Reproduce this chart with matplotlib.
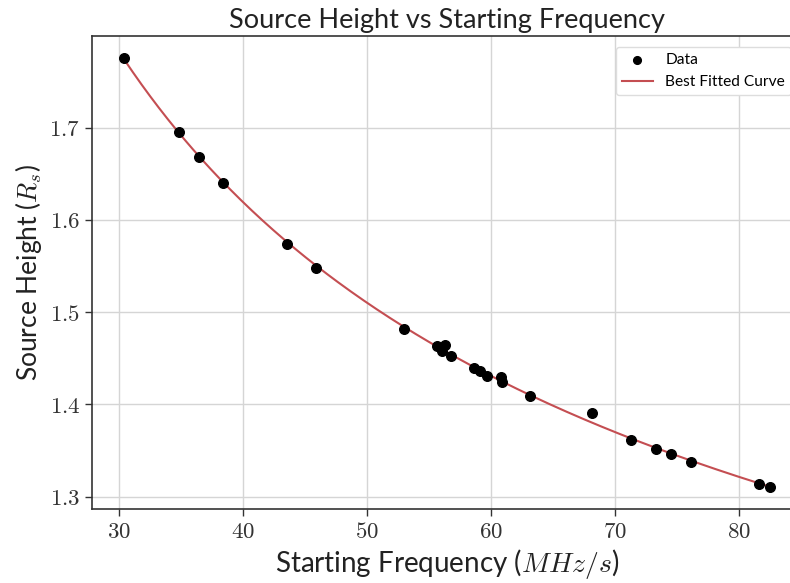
import numpy as np
import matplotlib
matplotlib.use("Agg")
import matplotlib.pyplot as plt
from matplotlib.ticker import FuncFormatter

# starting frequency (MHz/s) and source height (R_s)
freq = [30.4, 34.8, 36.45, 38.4, 43.5, 45.9, 53.0, 55.6, 56.0, 56.3, 56.8,
        58.6, 59.1, 59.7, 60.8, 60.9, 63.1, 68.1, 71.3, 73.3, 74.5, 76.1,
        81.6, 82.5]
height = [1.776, 1.695, 1.668, 1.640, 1.574, 1.548, 1.482, 1.463, 1.458,
          1.464, 1.453, 1.4395, 1.4366, 1.431, 1.4298, 1.424, 1.409, 1.391,
          1.361, 1.352, 1.346, 1.338, 1.3133, 1.310]

plt.rcParams["mathtext.fontset"] = "cm"
plt.rcParams["font.family"] = ["Lato", "DejaVu Sans"]

x = np.array(freq)
y = np.array(height)
# smooth fit in log space
coef = np.polyfit(np.log(x), np.log(y), 2)
xs = np.linspace(x.min(), x.max(), 300)
ys = np.exp(np.polyval(coef, np.log(xs)))

fig = plt.figure(figsize=(7.9, 5.83), dpi=100)
# the original image is cropped on the right, so the axes run past the edge
ax = fig.add_axes([0.1165, 0.127, 0.899, 0.811])

ax.grid(True, color="#d5d5d5", linewidth=1.0)
ax.set_axisbelow(True)
ax.scatter(x, y, s=48, color="black", zorder=3, label="Data")
ax.plot(xs, ys, color="#C44E52", linewidth=1.5, zorder=2, label="Best Fitted Curve")

for sp in ax.spines.values():
    sp.set_color("#333333")
    sp.set_linewidth(1.2)
ax.tick_params(direction="out", length=5, width=1.0, color="#333333",
               labelsize=16.5, labelcolor="#333333")
ax.set_xticks([30, 40, 50, 60, 70, 80])
ax.set_yticks([1.3, 1.4, 1.5, 1.6, 1.7])
ax.xaxis.set_major_formatter(FuncFormatter(lambda v, p: r"$%d$" % v))
ax.yaxis.set_major_formatter(FuncFormatter(lambda v, p: r"$%.1f$" % v))

ax.set_title("Source Height vs Starting Frequency", fontsize=19.5, color="#222222")
ax.set_xlabel(r"Starting Frequency ($MHz/s$)", fontsize=20, color="#222222")
ax.set_ylabel(r"Source Height ($R_s$)", fontsize=19, color="#222222")

leg = ax.legend(loc="upper right", fontsize=11.2, frameon=True, framealpha=1.0,
                edgecolor="#dddddd", markerscale=0.8, borderaxespad=0.7)

fig.savefig("out.png", dpi=100)
